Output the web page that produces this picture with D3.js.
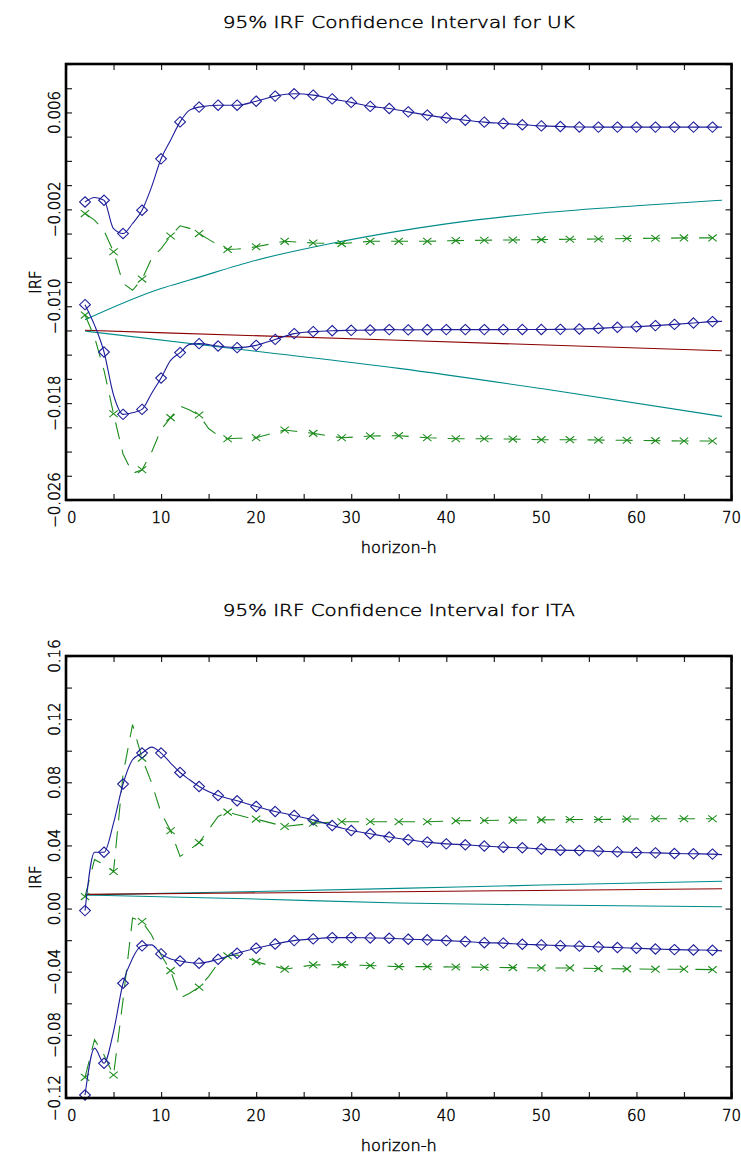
<!DOCTYPE html>
<html>
<head>
<meta charset="utf-8">
<script src="https://cdn.jsdelivr.net/npm/d3@7"></script>
<style>
  body { margin: 0; background: #fff; }
  text { font-family: "DejaVu Sans", sans-serif; font-weight: 200; fill: #000; stroke: #000; stroke-width: 0.45px; }
</style>
</head>
<body>
<svg id="chart" width="741" height="1160"></svg>
<script>
// horizons that carry a marker
const diamondSteps = d3.range(2, 69, 2);
const crossSteps = d3.range(2, 69, 3);

const xTicks = d3.range(0, 71, 5);
const xLabels = d3.range(0, 71, 10);

// ---- UK ----
const ukTitle = "95% IRF Confidence Interval for UK";
const ukYTicks = d3.range(19).map(i => -0.026 + i * 0.002);
const ukYLabels = [-0.026, -0.018, -0.010, -0.002, 0.006];

const ukBlueUpper = [[2,-0.00139],[3,-0.00102],[4,-0.00125],[5,-0.0036],[6,-0.0040],[7,-0.00317],[8,-0.00207],[9,-0.00015],[10,0.00217],[11,0.00371],[12,0.00522],[13,0.00619],[14,0.00644],[16,0.0066],[18,0.0066],[20,0.00693],[22,0.00735],[24,0.00754],[26,0.00743],[28,0.00712],[30,0.00683],[32,0.0065],[34,0.00633],[36,0.00605],[38,0.00578],[40,0.00555],[42,0.00536],[44,0.0052],[46,0.00509],[48,0.00498],[50,0.00489],[52,0.00484],[54,0.0048],[56,0.00479],[58,0.00479],[60,0.00479],[62,0.00479],[64,0.00479],[66,0.00479],[68,0.00479],[69,0.00479]];
const ukBlueLower = [[2,-0.00987],[3,-0.01156],[4,-0.01378],[5,-0.01733],[6,-0.01893],[7,-0.01879],[8,-0.01852],[9,-0.0172],[10,-0.01593],[11,-0.01447],[12,-0.01383],[13,-0.01315],[14,-0.01309],[16,-0.01329],[18,-0.01342],[20,-0.01323],[22,-0.01274],[24,-0.01226],[26,-0.0121],[28,-0.01202],[30,-0.01199],[32,-0.01197],[34,-0.01193],[36,-0.01195],[38,-0.01194],[40,-0.01193],[42,-0.01193],[44,-0.01193],[46,-0.01193],[48,-0.01192],[50,-0.01192],[52,-0.01191],[54,-0.01188],[56,-0.01183],[58,-0.01174],[60,-0.01169],[62,-0.0116],[64,-0.0115],[66,-0.01139],[68,-0.01127],[69,-0.01125]];
const ukGreenUpper = [[2,-0.00235],[3,-0.00289],[4,-0.00377],[5,-0.0055],[6,-0.00811],[7,-0.00868],[8,-0.00776],[9,-0.00607],[10,-0.00524],[11,-0.0042],[12,-0.00336],[13,-0.00357],[14,-0.004],[15,-0.00448],[16,-0.00495],[17,-0.00531],[18,-0.00528],[19,-0.0052],[20,-0.00509],[23,-0.00464],[26,-0.00478],[29,-0.00483],[32,-0.00464],[35,-0.00464],[38,-0.00464],[41,-0.00458],[44,-0.00455],[47,-0.00453],[50,-0.0045],[53,-0.00447],[56,-0.00445],[59,-0.00441],[62,-0.00439],[65,-0.00436],[68,-0.00436]];
const ukGreenLower = [[2,-0.01073],[3,-0.01255],[4,-0.0153],[5,-0.01888],[6,-0.0222],[7,-0.0238],[8,-0.0235],[9,-0.02205],[10,-0.0202],[11,-0.0192],[12,-0.01824],[13,-0.01857],[14,-0.01898],[15,-0.0201],[16,-0.02067],[17,-0.02094],[18,-0.0209],[19,-0.0209],[20,-0.02086],[23,-0.02022],[26,-0.0205],[29,-0.02086],[32,-0.02072],[35,-0.02069],[38,-0.02086],[41,-0.02094],[44,-0.02094],[47,-0.02097],[50,-0.02102],[53,-0.02102],[56,-0.02105],[59,-0.02107],[62,-0.0211],[65,-0.02113],[68,-0.02113]];
const ukTealUpper = [[2,-0.01111],[10,-0.00853],[13,-0.00784],[20,-0.0062],[28,-0.0048],[35,-0.0038],[40,-0.0032],[50,-0.0023],[60,-0.0017],[69,-0.00125]];
const ukTealLower = [[2,-0.01205],[20,-0.01372],[35,-0.01513],[50,-0.0168],[69,-0.0191]];
const ukPoint = [[2,-0.01199],[35,-0.01281],[69,-0.01368]];

// ---- ITA ----
const itaTitle = "95% IRF Confidence Interval for ITA";
const itaYTicks = d3.range(15).map(i => -0.12 + i * 0.02);
const itaYLabels = [-0.12, -0.08, -0.04, 0.00, 0.04, 0.08, 0.12, 0.16];

const itaBlueUpper = [[2,-0.0013],[3,0.0357],[4,0.0357],[5,0.0541],[6,0.0789],[7,0.0943],[8,0.0985],[9,0.1023],[10,0.0985],[11,0.0922],[12,0.0862],[13,0.0816],[14,0.0773],[16,0.0716],[18,0.0683],[20,0.0647],[22,0.0615],[24,0.059],[26,0.0562],[28,0.0526],[30,0.0495],[32,0.0474],[34,0.0453],[36,0.0436],[38,0.0421],[40,0.041],[42,0.0404],[44,0.0396],[46,0.0389],[48,0.0385],[50,0.0377],[52,0.037],[54,0.0368],[56,0.0364],[58,0.0359],[60,0.0355],[62,0.0353],[64,0.0349],[66,0.0347],[68,0.0345],[69,0.0342]];
const itaBlueLower = [[2,-0.1181],[3,-0.0884],[4,-0.098],[5,-0.0779],[6,-0.0473],[7,-0.0314],[8,-0.0236],[9,-0.023],[10,-0.0287],[11,-0.0319],[12,-0.0332],[13,-0.0342],[14,-0.0346],[16,-0.0321],[18,-0.0283],[20,-0.0251],[22,-0.0224],[24,-0.0203],[26,-0.0192],[28,-0.0184],[30,-0.0184],[32,-0.0186],[34,-0.0188],[36,-0.0194],[38,-0.0198],[40,-0.0203],[42,-0.0209],[44,-0.0216],[46,-0.0219],[48,-0.0226],[50,-0.023],[52,-0.0235],[54,-0.0238],[56,-0.0243],[58,-0.0247],[60,-0.0251],[62,-0.0256],[64,-0.026],[66,-0.0262],[68,-0.0264],[69,-0.0268]];
const itaGreenUpper = [[2,0.0076],[3,0.031],[4,0.028],[5,0.0235],[6,0.085],[7,0.1165],[8,0.0953],[9,0.0797],[10,0.0607],[11,0.0493],[12,0.033],[13,0.0372],[14,0.0418],[15,0.05],[16,0.0583],[17,0.0611],[18,0.0594],[19,0.0578],[20,0.0567],[23,0.052],[26,0.0541],[29,0.055],[32,0.055],[35,0.055],[38,0.055],[41,0.0556],[44,0.0558],[47,0.056],[50,0.0562],[53,0.0564],[56,0.0564],[59,0.0567],[62,0.0569],[65,0.0569],[68,0.0569]];
const itaGreenLower = [[2,-0.1069],[3,-0.083],[4,-0.0928],[5,-0.1054],[6,-0.0579],[7,-0.006],[8,-0.0082],[9,-0.0167],[10,-0.0294],[11,-0.0393],[12,-0.0566],[13,-0.0536],[14,-0.0498],[15,-0.0431],[16,-0.0346],[17,-0.03],[18,-0.0294],[19,-0.0314],[20,-0.0336],[21,-0.0354],[22,-0.0366],[23,-0.0384],[26,-0.0357],[29,-0.0355],[32,-0.0361],[35,-0.0368],[38,-0.0368],[41,-0.037],[44,-0.0372],[47,-0.0374],[50,-0.0376],[53,-0.0376],[56,-0.038],[59,-0.0382],[62,-0.0384],[65,-0.0384],[68,-0.0387]];
const itaTealUpper = [[2,0.0087],[20,0.0108],[35,0.0128],[50,0.0149],[69,0.0173]];
const itaTealLower = [[2,0.0086],[19,0.0062],[35,0.0035],[50,0.0023],[69,0.0012]];
const itaPoint = [[2,0.009],[35,0.0107],[69,0.0126]];

const colors = { blue: "#1e1e9a", green: "#1b8c1b", teal: "#008b8b", red: "#8b0000" };

const svg = d3.select("#chart");
svg.append("rect").attr("width", 741).attr("height", 1160).attr("fill", "#fff");

const panels = [
    {
        title: ukTitle, titleY: 28, top: 64, bottom: 500,
        yDomain: [-0.026, 0.010], yTicks: ukYTicks, yLabels: ukYLabels, fmt: d3.format(".3f"),
        blue: [ukBlueUpper, ukBlueLower], green: [ukGreenUpper, ukGreenLower],
        teal: [ukTealUpper, ukTealLower], point: ukPoint
    },
    {
        title: itaTitle, titleY: 616, top: 656, bottom: 1098,
        yDomain: [-0.12, 0.16], yTicks: itaYTicks, yLabels: itaYLabels, fmt: d3.format(".2f"),
        blue: [itaBlueUpper, itaBlueLower], green: [itaGreenUpper, itaGreenLower],
        teal: [itaTealUpper, itaTealLower], point: itaPoint
    }
];

const left = 66, right = 731.5;

panels.forEach(p => drawPanel(p));

function drawPanel(p) {
    const x = d3.scaleLinear().domain([0, 70]).range([left, right]);
    const y = d3.scaleLinear().domain(p.yDomain).range([p.bottom, p.top]);
    const g = svg.append("g");

    const smooth = d3.line().x(d => x(d[0])).y(d => y(d[1])).curve(d3.curveMonotoneX);
    const straight = d3.line().x(d => x(d[0])).y(d => y(d[1]));

    // ticks, all pointing into the frame
    const tickStyle = sel => sel.call(a => a.select(".domain").remove())
        .selectAll(".tick line").attr("stroke", "#222").attr("stroke-width", 1.2);
    g.append("g").attr("transform", `translate(0,${p.bottom})`)
        .call(d3.axisTop(x).tickValues(xTicks).tickSize(6).tickFormat("")).call(tickStyle);
    g.append("g").attr("transform", `translate(0,${p.top})`)
        .call(d3.axisBottom(x).tickValues(xTicks).tickSize(6).tickFormat("")).call(tickStyle);
    g.append("g").attr("transform", `translate(${left},0)`)
        .call(d3.axisRight(y).tickValues(p.yTicks).tickSize(6).tickFormat("")).call(tickStyle);
    g.append("g").attr("transform", `translate(${right},0)`)
        .call(d3.axisLeft(y).tickValues(p.yTicks).tickSize(6).tickFormat("")).call(tickStyle);

    // series
    p.teal.forEach(s => g.append("path").attr("d", smooth(s))
        .attr("fill", "none").attr("stroke", colors.teal).attr("stroke-width", 1.1));
    g.append("path").attr("d", smooth(p.point))
        .attr("fill", "none").attr("stroke", colors.red).attr("stroke-width", 1.1);

    p.green.forEach(s => {
        g.append("path").attr("d", straight(s))
            .attr("fill", "none").attr("stroke", colors.green).attr("stroke-width", 1.1)
            .attr("stroke-dasharray", "17,11");
        g.selectAll(null).data(s.filter(d => crossSteps.includes(d[0]))).join("path")
            .attr("transform", d => `translate(${x(d[0])},${y(d[1])})`)
            .attr("d", "M-4.2,-3.4L4.2,3.4M-4.2,3.4L4.2,-3.4")
            .attr("fill", "none").attr("stroke", colors.green).attr("stroke-width", 1.1);
    });

    p.blue.forEach(s => {
        g.append("path").attr("d", smooth(s))
            .attr("fill", "none").attr("stroke", colors.blue).attr("stroke-width", 1.1);
        g.selectAll(null).data(s.filter(d => diamondSteps.includes(d[0]))).join("path")
            .attr("transform", d => `translate(${x(d[0])},${y(d[1])})`)
            .attr("d", "M0,-5.2L5.4,0L0,5.2L-5.4,0Z")
            .attr("fill", "none").attr("stroke", colors.blue).attr("stroke-width", 1.1);
    });

    // frame
    g.append("rect").attr("x", left).attr("y", p.top)
        .attr("width", right - left).attr("height", p.bottom - p.top)
        .attr("fill", "none").attr("stroke", "#000").attr("stroke-width", 2.6);

    // tick labels
    g.selectAll(null).data(xLabels).join("text")
        .attr("x", d => d === 0 ? x(d) + 1 : x(d))
        .attr("y", p.bottom + 22.5)
        .attr("text-anchor", d => d === 0 ? "start" : "middle")
        .attr("font-size", 15)
        .text(d => d);

    g.selectAll(null).data(p.yLabels).join("text")
        .attr("transform", d => `translate(${left - 6},${y(d)}) rotate(-90)`)
        .attr("text-anchor", "middle")
        .attr("font-size", 15)
        .text(d => p.fmt(d));

    // titles
    g.append("text").attr("x", (left + right) / 2).attr("y", p.titleY)
        .attr("text-anchor", "middle").attr("font-size", 16.5)
        .attr("textLength", 352).attr("lengthAdjust", "spacingAndGlyphs")
        .text(p.title);
    g.append("text").attr("x", (left + right) / 2).attr("y", p.bottom + 53)
        .attr("text-anchor", "middle").attr("font-size", 16)
        .attr("textLength", 76).attr("lengthAdjust", "spacingAndGlyphs")
        .text("horizon-h");
    g.append("text")
        .attr("transform", `translate(41,${(p.top + p.bottom) / 2}) rotate(-90)`)
        .attr("text-anchor", "middle").attr("font-size", 15)
        .text("IRF");
}
</script>
</body>
</html>
